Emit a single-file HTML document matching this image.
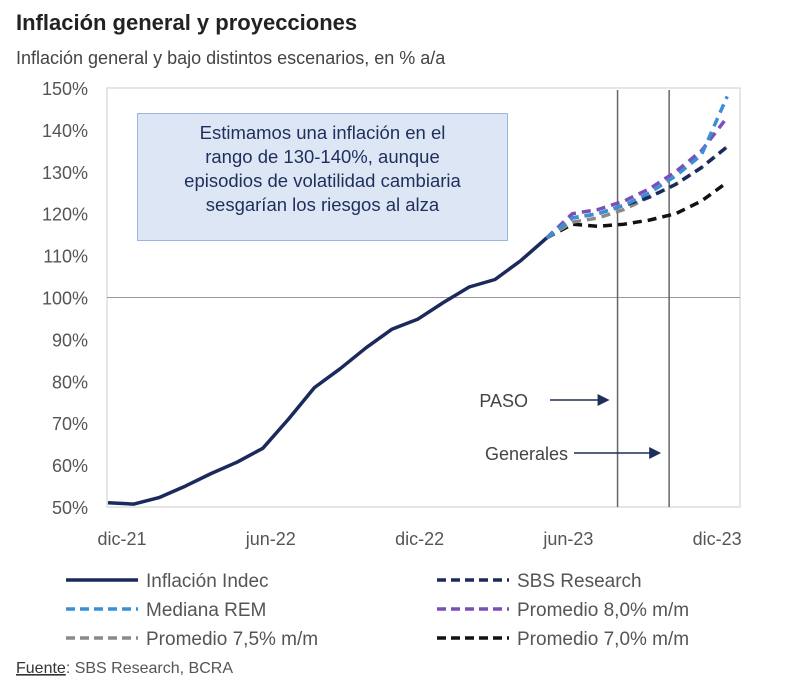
<!DOCTYPE html>
<html><head><meta charset="utf-8"><style>
body{margin:0;background:#fff;font-family:"Liberation Sans",sans-serif;}
#wrap{position:relative;width:800px;height:698px;overflow:hidden}
</style></head><body>
<div id="wrap">
<svg id="chart" width="800" height="698"></svg>
</div>
<script>
const months=['dic-21','ene-22','feb-22','mar-22','abr-22','may-22','jun-22','jul-22','ago-22','sep-22','oct-22','nov-22','dic-22','ene-23','feb-23','mar-23','abr-23','may-23','jun-23','jul-23','ago-23','sep-23','oct-23','nov-23','dic-23'];
const indec=[51,50.7,52.3,55,58,60.7,64,71,78.5,83,88,92.4,94.8,98.8,102.5,104.3,108.8,114.2];
const sbs=[114.2,119,120,122,124,127,131,136];
const rem=[114.2,119,120,122,125,129,134,148];
const prom80=[114.2,120,121,123,126,130,135,143];
const prom75=[114.2,118,119,121,124,127,131,136];
const prom70=[114.2,117.5,117,117.5,118.5,120,123,127.5];
const yTicks=[50,60,70,80,90,100,110,120,130,140,150];
const xTickLabels=['dic-21','jun-22','dic-22','jun-23','dic-23'];
const events=[{name:'PASO',m:19.75},{name:'Generales',m:21.75}];

const NS='http://www.w3.org/2000/svg';
const svg=document.getElementById('chart');
const X=i=>108+i*25.8;
const Y=v=>507-(v-50)*4.19;
function el(t,a,p){const e=document.createElementNS(NS,t);for(const k in a)e.setAttribute(k,a[k]);(p||svg).appendChild(e);return e;}
function txt(s,a){const e=el('text',a);e.textContent=s;return e;}

let t=txt('Inflación general y proyecciones',{x:16,y:30,'font-size':22,'font-weight':'bold',fill:'#222'});


t=txt('Inflación general y bajo distintos escenarios, en % a/a',{x:16,y:64,'font-size':18,fill:'#444'});



let r=el('rect',{x:107,y:88,width:633,height:419,fill:'none',stroke:'#ddd','stroke-width':1.5});


let l=el('line',{x1:107,x2:740,y1:Y(100),y2:Y(100),stroke:'#999','stroke-width':1});



yTicks.forEach(v=>{const e=txt(v+'%',{x:88,y:Y(v)+7,'font-size':18,fill:'#555','text-anchor':'end'});

});
xTickLabels.forEach(s=>{const i=months.indexOf(s);const e=txt(s,{x:122+i*24.8,y:545,'font-size':18,fill:'#555','text-anchor':'middle'});

});

events.forEach((ev,k)=>{const x=X(ev.m);
const v=el('line',{x1:x,x2:x,y1:90,y2:507,stroke:'#666','stroke-width':1.5});


const ty=k===0?407:460;
const lt=txt(ev.name,{x:k===0?528:568,y:ty,'font-size':18,fill:'#444','text-anchor':'end'});


const ax0=k===0?550:574,ax1=x-18;
const a=el('line',{x1:ax0,x2:ax1,y1:ty-7,y2:ty-7,stroke:'#1f2f5c','stroke-width':1.5});


const h=el('path',{d:`M${ax1+10},${ty-7} L${ax1-2},${ty-13} L${ax1-2},${ty-1} Z`,fill:'#1f2f5c'});

});

function line(data,start,color,dash,w,name){
const d=data.map((v,i)=>(i?'L':'M')+X(start+i).toFixed(1)+','+Y(v).toFixed(1)).join(' ');
const p=el('path',{d,fill:'none',stroke:color,'stroke-width':w,'stroke-dasharray':dash||'none','stroke-linejoin':'round'});

}
const series=[[prom70,'#111','series-prom-70'],[prom75,'#8a8a8a','series-prom-75'],[sbs,'#1b2a5c','series-sbs'],[prom80,'#7c4fb8','series-prom-80'],[rem,'#3a8fd6','series-rem']];
series.forEach(s=>line(s[0],17,s[1],'9,6',3.5,s[2]));
line(indec,0,'#1b2a5c',null,3.5,'series-inflacion-indec');

const fo=el('foreignObject',{x:137,y:113,width:371,height:128});


fo.innerHTML='<div xmlns="http://www.w3.org/1999/xhtml" style="box-sizing:border-box;width:371px;height:128px;background:#dce6f4;border:1.5px solid #9ab8dd;color:#1f2f5c;font-size:18.5px;line-height:24px;text-align:center;padding-top:7px;font-family:Liberation Sans,sans-serif">Estimamos una inflación en el<br/>rango de 130-140%, aunque<br/>episodios de volatilidad cambiaria<br/>sesgarían los riesgos al alza</div>';

const leg=[['Inflación Indec','#1b2a5c',null,66,580],['SBS Research','#1b2a5c','9,5',437,580],['Mediana REM','#3a8fd6','9,5',66,609],['Promedio 8,0% m/m','#7c4fb8','9,5',437,609],['Promedio 7,5% m/m','#8a8a8a','9,5',66,638],['Promedio 7,0% m/m','#111','9,5',437,638]];
leg.forEach(g=>{const ln=el('line',{x1:g[3],x2:g[3]+72,y1:g[4],y2:g[4],stroke:g[1],'stroke-width':3.5,'stroke-dasharray':g[2]||'none'});


const lt=txt(g[0],{x:g[3]+80,y:g[4]+7,'font-size':19,fill:'#555'});

});

const f=txt('',{x:16,y:673,'font-size':16,fill:'#555'});


f.innerHTML='<tspan text-decoration="underline" fill="#333">Fuente</tspan>: SBS Research, BCRA';
</script>
</body></html>
